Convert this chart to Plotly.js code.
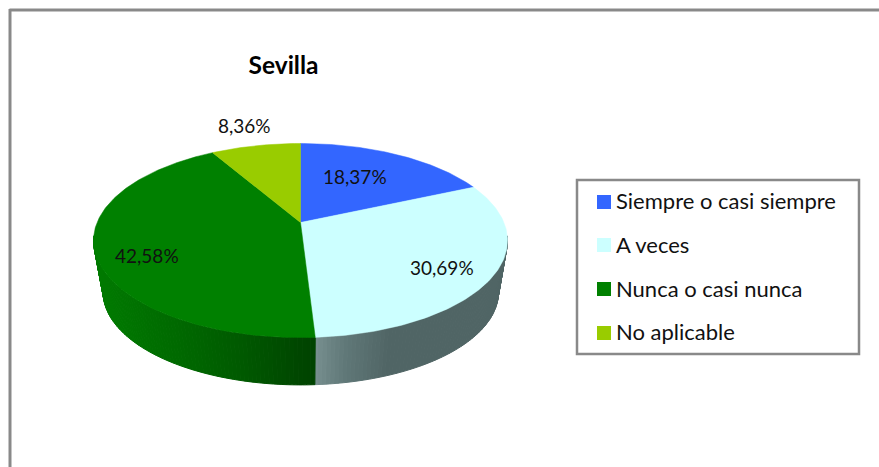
<!DOCTYPE html>
<html><head><meta charset="utf-8">
<script src="https://cdn.plot.ly/plotly-3.0.1.min.js"></script>
<style>html,body{margin:0;padding:0;background:#fff;overflow:hidden}</style>
</head><body><div id="chart" style="width:879px;height:467px"></div>
<script>
const chartTitle = 'Sevilla';
const categories = ['Siempre o casi siempre', 'A veces', 'Nunca o casi nunca', 'No aplicable'];
const values = [18.37, 30.69, 42.58, 8.36];
const colors = ['#3366FF', '#CCFFFF', '#008000', '#99CC00'];
const labelPos = [[355, 176], [442, 267], [147, 255], [244, 125]];

// perspective projection of the pie disc
const top_ = {cx: 300.5, cy: 222.5, A: 203.4, B: 93.7, k: 0.1856};
const bot_ = {cx: 300.8, cy: 275, A: 194.2, B: 89.5, k: 0.1856};
function proj(d, deg) {
  const t = deg * Math.PI / 180, den = 1 + d.k * Math.cos(t);
  return [d.cx + d.A * Math.sin(t) / den, d.cy - d.B * Math.cos(t) / den];
}
const wallStops = {
  0: [[300, [30, 60, 150]], [500, [30, 60, 150]]],
  1: [[316, [118, 142, 142]], [345, [96, 120, 120]], [390, [80, 101, 101]], [506, [80, 101, 101]]],
  2: [[95, [0, 122, 0]], [180, [0, 104, 0]], [250, [0, 86, 0]], [300, [0, 70, 0]], [316, [0, 66, 0]]],
  3: [[100, [0, 120, 0]], [300, [0, 120, 0]]]
};
function wallColor(i, x) {
  const s = wallStops[i];
  if (x <= s[0][0]) return `rgb(${s[0][1].join(',')})`;
  for (let j = 1; j < s.length; j++) {
    if (x <= s[j][0]) {
      const f = (x - s[j-1][0]) / (s[j][0] - s[j-1][0]);
      const c = s[j][1].map((v, n) => Math.round(s[j-1][1][n] + (v - s[j-1][1][n]) * f));
      return `rgb(${c.join(',')})`;
    }
  }
  return `rgb(${s[s.length-1][1].join(',')})`;
}
const traces = [];
function poly(xs, ys, color, w) {
  traces.push({type: 'scatter', mode: 'lines', x: xs, y: ys, fill: 'toself', fillcolor: color,
    line: {color: color, width: w}, hoverinfo: 'skip', showlegend: false});
}
const total = values.reduce((a, b) => a + b, 0);
let acc = 0;
const wedges = values.map(v => { const a = acc; acc += v / total * 360; return [a, acc]; });
// side wall (front, visible arc only)
const wallFrom = 98, wallTo = 262, step = 1;
wedges.forEach(([a, b], i) => {
  const s = Math.max(a, wallFrom), e = Math.min(b, wallTo);
  for (let t = s; t < e; t += step) {
    const t2 = Math.min(t + step, e);
    const p = [proj(top_, t), proj(top_, t2), proj(bot_, t2), proj(bot_, t)];
    const c = wallColor(i, (p[0][0] + p[1][0]) / 2);
    poly(p.map(q => q[0]).concat(p[0][0]), p.map(q => q[1]).concat(p[0][1]), c, 1);
  }
});
// top faces
wedges.forEach(([a, b], i) => {
  const xs = [top_.cx], ys = [top_.cy];
  for (let t = a; t < b; t += 1) { const q = proj(top_, t); xs.push(q[0]); ys.push(q[1]); }
  const q = proj(top_, b); xs.push(q[0], top_.cx); ys.push(q[1], top_.cy);
  poly(xs, ys, colors[i], 0.5);
});

const fmt = v => v.toFixed(2).replace('.', ',') + '%';
const FONT = 'Lato, Carlito, sans-serif';
const annotations = values.map((v, i) => ({
  xref: 'x', yref: 'y', x: labelPos[i][0], y: labelPos[i][1], text: fmt(v), showarrow: false,
  font: {family: FONT, size: 19, color: '#111'}, xanchor: 'center', yanchor: 'middle'
}));
const shapes = [
  {type: 'line', xref: 'x', yref: 'y', x0: 9.5, y0: 10, x1: 879, y1: 10, line: {color: '#898989', width: 3}},
  {type: 'line', xref: 'x', yref: 'y', x0: 10, y0: 9, x1: 10, y1: 467, line: {color: '#898989', width: 3}},
  {type: 'rect', xref: 'x', yref: 'y', x0: 577, y0: 180, x1: 859, y1: 354, fillcolor: '#fff', line: {color: '#898989', width: 2.5}}
];
const swatchY = [202, 245, 289, 333];
const legendTextY = [200, 244, 288, 331];
categories.forEach((c, i) => {
  shapes.push({type: 'rect', xref: 'x', yref: 'y', x0: 597, x1: 611, y0: swatchY[i] - 7, y1: swatchY[i] + 7,
    fillcolor: colors[i], line: {width: 0}});
  annotations.push({xref: 'x', yref: 'y', x: 614, y: legendTextY[i], text: c, showarrow: false, xanchor: 'left', yanchor: 'middle',
    font: {family: FONT, size: 22, color: '#111'}});
});
Plotly.newPlot('chart', traces, {
  width: 879, height: 467, margin: {l: 0, r: 0, t: 0, b: 0},
  paper_bgcolor: '#fff', plot_bgcolor: '#fff', showlegend: false,
  title: {text: chartTitle, x: 283.5 / 879, xanchor: 'center', y: 1 - 65 / 467, yanchor: 'middle',
    font: {family: FONT, size: 24.5, color: '#000', weight: 700}},
  xaxis: {range: [0, 879], visible: false, fixedrange: true},
  yaxis: {range: [467, 0], visible: false, fixedrange: true},
  annotations, shapes
}, {displayModeBar: false, staticPlot: true});
</script></body></html>
